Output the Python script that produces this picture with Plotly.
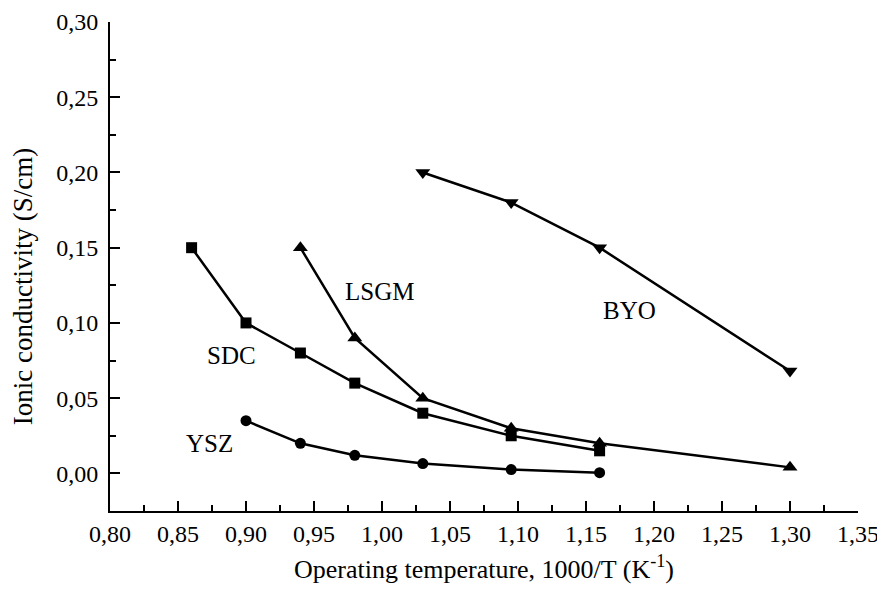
import plotly.graph_objects as go

# Data
sdc_x = [0.86, 0.90, 0.94, 0.98, 1.03, 1.095, 1.16]
sdc_y = [0.150, 0.100, 0.080, 0.060, 0.040, 0.025, 0.015]

lsgm_x = [0.94, 0.98, 1.03, 1.095, 1.16, 1.30]
lsgm_y = [0.150, 0.090, 0.050, 0.030, 0.020, 0.004]

byo_x = [1.03, 1.095, 1.16, 1.30]
byo_y = [0.200, 0.180, 0.150, 0.068]

ysz_x = [0.90, 0.94, 0.98, 1.03, 1.095, 1.16]
ysz_y = [0.035, 0.020, 0.012, 0.0065, 0.0025, 0.0005]

series = [
    ("SDC", sdc_x, sdc_y, "square", 11),
    ("LSGM", lsgm_x, lsgm_y, "triangle-up", 13),
    ("BYO", byo_x, byo_y, "triangle-down", 13),
    ("YSZ", ysz_x, ysz_y, "circle", 11),
]

FONT = "Liberation Serif, Times New Roman, serif"
FS = 25
TFS = 24

fig = go.Figure()
for name, xs, ys, sym, sz in series:
    fig.add_trace(go.Scatter(
        x=xs, y=ys, mode="lines+markers", name=name,
        line=dict(color="black", width=2.5),
        marker=dict(symbol=sym, size=sz, color="black"),
        showlegend=False,
    ))

labels = [
    ("LSGM", 0.998, 0.121),
    ("SDC", 0.889, 0.0785),
    ("YSZ", 0.873, 0.020),
    ("BYO", 1.182, 0.108),
]
for txt, lx, ly in labels:
    fig.add_annotation(x=lx, y=ly, text=txt, showarrow=False,
                       font=dict(family=FONT, size=FS, color="black"))

# y-axis title as a rotated text placed like in the reference
fig.add_annotation(x=-0.116, y=0.458, xref="paper", yref="paper",
                   text="Ionic conductivity (S/cm)", textangle=-90, showarrow=False,
                   xanchor="center", yanchor="middle",
                   font=dict(family=FONT, size=27, color="black"))

axis_common = dict(
    showline=True, linecolor="black", linewidth=2,
    ticks="inside", ticklen=10, tickwidth=2, tickcolor="black",
    showgrid=False, zeroline=False,
    tickfont=dict(family=FONT, size=TFS, color="black"),
    tickformat=".2f",
)

fig.update_xaxes(
    range=[0.80, 1.35], tickmode="linear", tick0=0.80, dtick=0.05,
    minor=dict(ticks="inside", ticklen=6, tickwidth=2, tickcolor="black", dtick=0.025, tick0=0.80),
    title=dict(text="Operating temperature, 1000/T (K<sup>-1</sup>)",
               font=dict(family=FONT, size=26, color="black"), standoff=14),
    ticklabelstandoff=0,
    **axis_common,
)
fig.update_yaxes(
    range=[-0.025, 0.30], tickmode="linear", tick0=0.0, dtick=0.05,
    minor=dict(ticks="inside", ticklen=6, tickwidth=2, tickcolor="black", dtick=0.025, tick0=0.0),
    ticklabelstandoff=5,
    **axis_common,
)

fig.update_layout(
    width=877, height=598,
    margin=dict(l=102, r=27, t=14, b=95, autoexpand=False),
    plot_bgcolor="white", paper_bgcolor="white",
    separators=",.",
    font=dict(family=FONT, color="black"),
)

fig.write_html("out.html")
